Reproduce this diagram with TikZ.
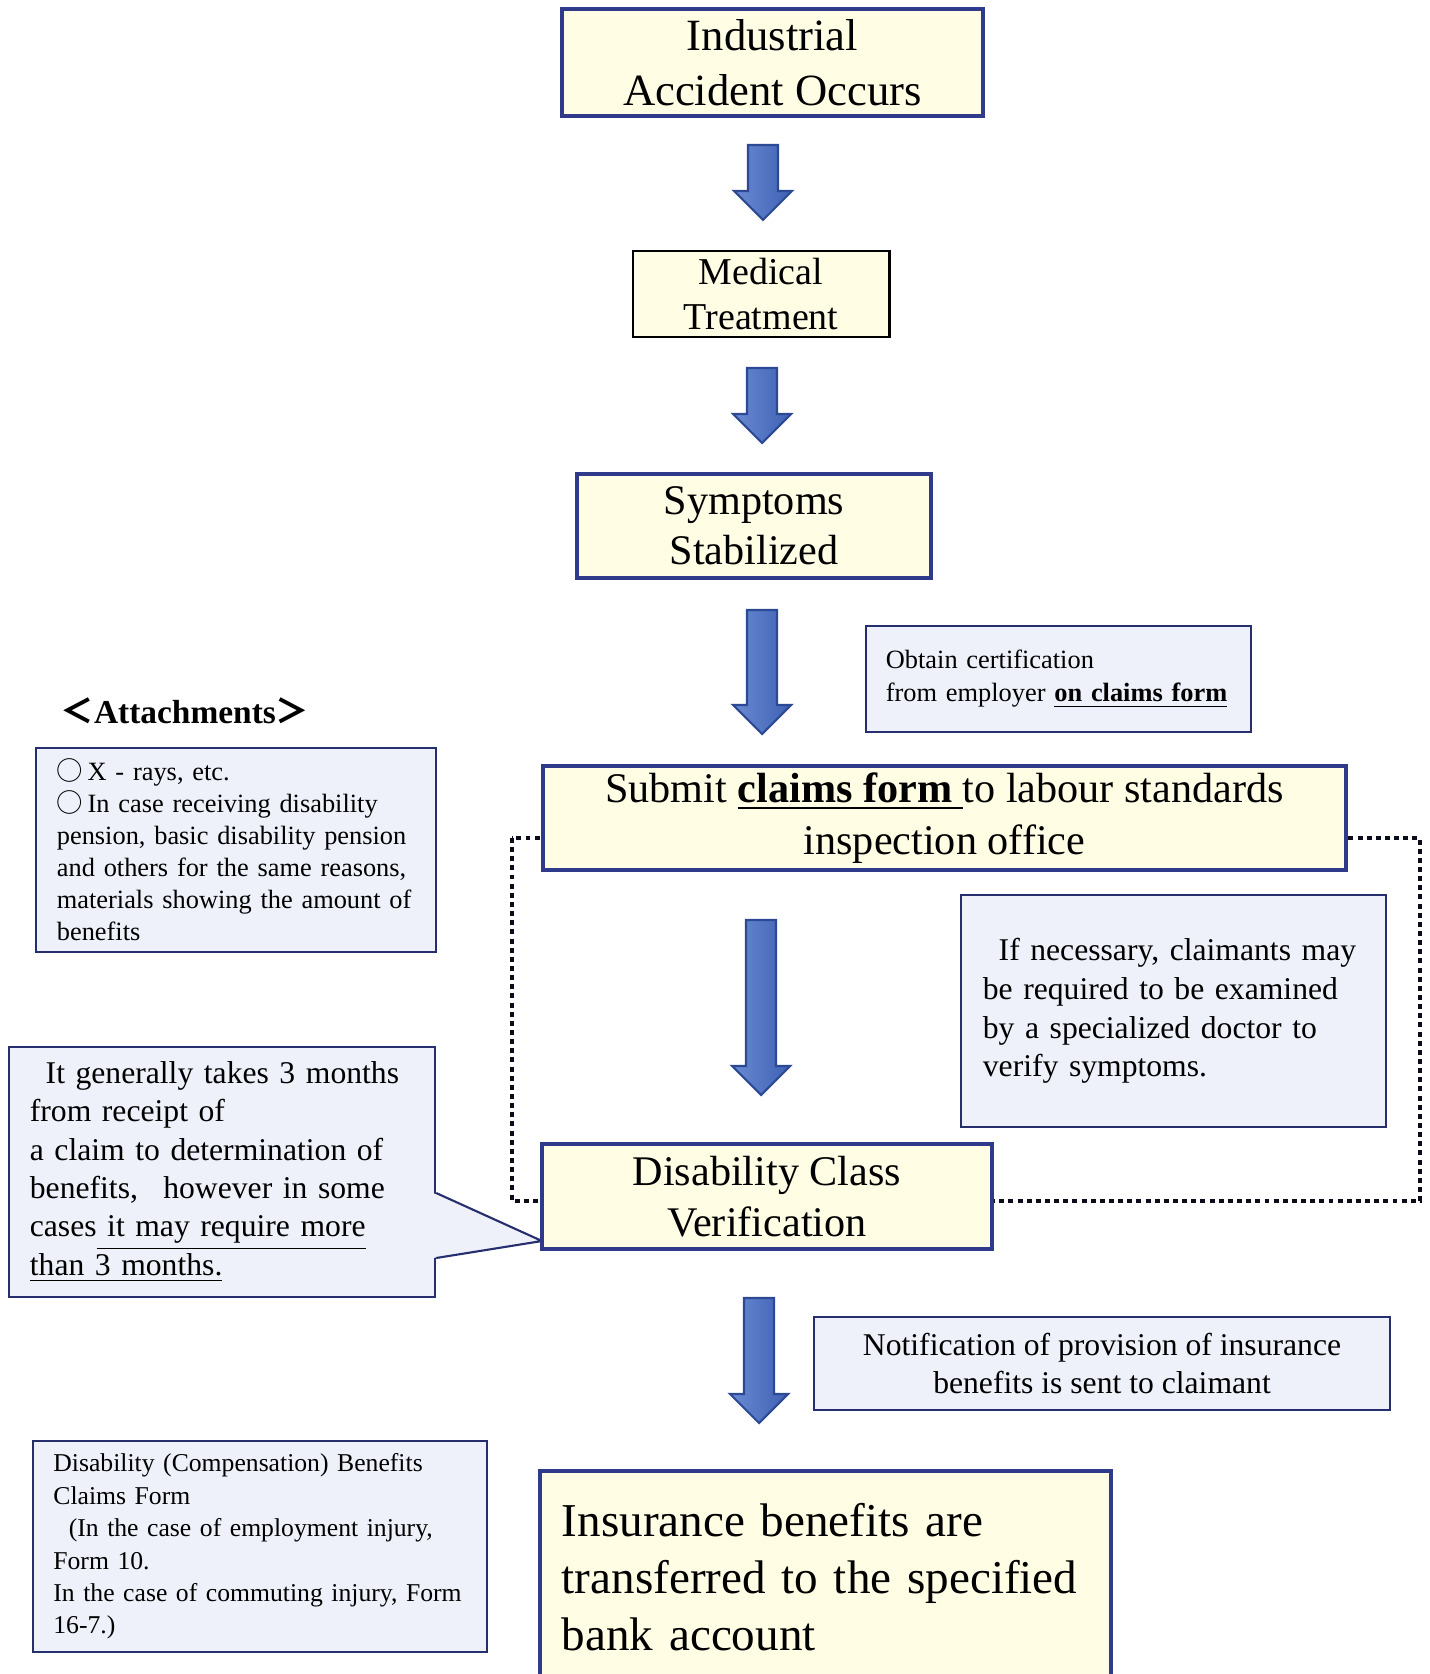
\documentclass[tikz,border=0pt]{standalone}
\usepackage{fontspec}
\setmainfont{Liberation Serif}
\newfontfamily\cjk{Noto Sans CJK JP}
\usetikzlibrary{positioning}

\definecolor{boxyellow}{HTML}{FFFDE4}
\definecolor{boxblue}{HTML}{EEF1FA}
\definecolor{navy}{HTML}{303A8A}
\definecolor{arrowlight}{HTML}{6A8AD2}
\definecolor{arrowdark}{HTML}{3F61B4}
\definecolor{arrowedge}{HTML}{2C4A94}

\begin{document}
\begin{tikzpicture}[x=0.01cm, y=-0.01cm,
  stepbox/.style={draw=navy, line width=1.2pt, fill=boxyellow, align=center, inner sep=0pt},
  notebox/.style={draw=navy!80!black, line width=0.6pt, fill=boxblue, inner sep=0pt},
  dotframe/.style={draw=black!80!navy, line width=1.4pt, dash pattern=on 1.4pt off 1.2pt},
  bigarrow/.style={left color=arrowlight, right color=arrowdark, draw=arrowedge, line width=0.6pt}]

  \useasboundingbox (0,0) rectangle (1429,1674);

  % dotted frame round the examination step
  \draw[dotframe] (512,838) rectangle (1420,1201);

  % main steps
  \node[stepbox, minimum width=4.21cm, minimum height=1.07cm,
        font={\fontsize{12.7}{15.6}\selectfont}] (accident) at (772.5,62.5)
        {Industrial\\Accident Occurs};
  \node[stepbox, draw=black, line width=0.8pt, minimum width=2.56cm, minimum height=0.86cm,
        font={\fontsize{10.8}{12.8}\selectfont}] (treatment) at (761,294)
        {Medical\\Treatment};
  \node[stepbox, minimum width=3.54cm, minimum height=1.04cm,
        font={\fontsize{12}{14.3}\selectfont}] (stabilized) at (754,526)
        {Symptoms\\Stabilized};
  \node[stepbox, minimum width=8.03cm, minimum height=1.04cm,
        font={\fontsize{12}{14.6}\selectfont}] (submit) at (944.5,818)
        {Submit \textbf{\underline{claims form\ }}to labour standards\\inspection office};

  % side notes
  \node[notebox, minimum width=3.85cm, minimum height=1.06cm, text width=3.45cm, align=left,
        font={\fontsize{7.5}{9.4}\selectfont}] (employer) at (1058.5,679)
        {Obtain certification\\from employer \textbf{\underline{on claims form}}};
  \node[font={\fontsize{9.5}{11}\selectfont\bfseries}] (attlabel) at (185,711)
        {{\cjk ＜}Attachments{\cjk ＞}};
  \node[notebox, minimum width=4.00cm, minimum height=2.04cm, text width=3.58cm, align=left,
        font={\fontsize{7.5}{9.1}\selectfont}] (attach) at (236,850)
        {{\cjk ○}\,X - rays, etc.\\
         {\cjk ○}\,In case receiving disability\\
         pension, basic disability pension\\
         and others for the same reasons,\\
         materials showing the amount of\\
         benefits};
  \node[notebox, minimum width=4.25cm, minimum height=2.32cm, text width=3.81cm, align=left,
        font={\fontsize{9}{11}\selectfont}] (doctor) at (1173.5,1011)
        {\hspace*{0.5em}If necessary, claimants may\\
         be required to be examined\\
         by a specialized doctor to\\
         verify symptoms.};

  % callout with pointer
  \node[notebox, minimum width=4.26cm, minimum height=2.50cm, text width=3.84cm, align=left,
        font={\fontsize{9}{10.9}\selectfont}] (months) at (222,1172)
        {\hspace*{0.5em}It generally takes 3 months\\
         from receipt of\\
         a claim to determination of\\
         benefits,\hspace{0.8em}however in some\\
         cases\underline{ it may require more}\\
         \underline{than 3 months.}};
  \fill[boxblue] (433,1193) -- (542,1241) -- (433,1258) -- cycle;
  \draw[navy!80!black, line width=0.6pt] (months.east |- 0,1193) -- (542,1241) -- (months.east |- 0,1258);

  \node[stepbox, minimum width=4.50cm, minimum height=1.05cm,
        font={\fontsize{12}{14.6}\selectfont}] (verify) at (767,1196.5)
        {Disability Class\\Verification};

  \node[notebox, minimum width=5.76cm, minimum height=0.93cm, align=center,
        font={\fontsize{9}{10.9}\selectfont}] (notice) at (1102,1363.5)
        {Notification of provision of insurance\\benefits is sent to claimant};
  \node[notebox, minimum width=4.54cm, minimum height=2.11cm, text width=4.13cm, align=left,
        font={\fontsize{7.3}{9.2}\selectfont}] (formbox) at (260,1546.5)
        {Disability (Compensation) Benefits\\
         Claims Form\\
         \hspace*{0.6em}(In the case of employment injury,\\
         Form 10.\\
         In the case of commuting injury, Form\\
         16-7.)};
  \node[stepbox, minimum width=5.71cm, minimum height=2.12cm, text width=5.27cm, align=left,
        font={\fontsize{13.4}{16.2}\selectfont}] (payment) at (825.5,1577)
        {Insurance benefits are\\transferred to the specified\\bank account};

  % block arrows between the steps
  \foreach \cx/\ytop/\ytip in {763/145/220, 762/368/443, 762/610/734, 761/920/1095, 759/1298/1423}
    \shadedraw[bigarrow] (\cx-15,\ytop) -- (\cx+15,\ytop) -- (\cx+15,\ytip-29) -- (\cx+29,\ytip-29)
      -- (\cx,\ytip) -- (\cx-29,\ytip-29) -- (\cx-15,\ytip-29) -- cycle;
\end{tikzpicture}
\end{document}
